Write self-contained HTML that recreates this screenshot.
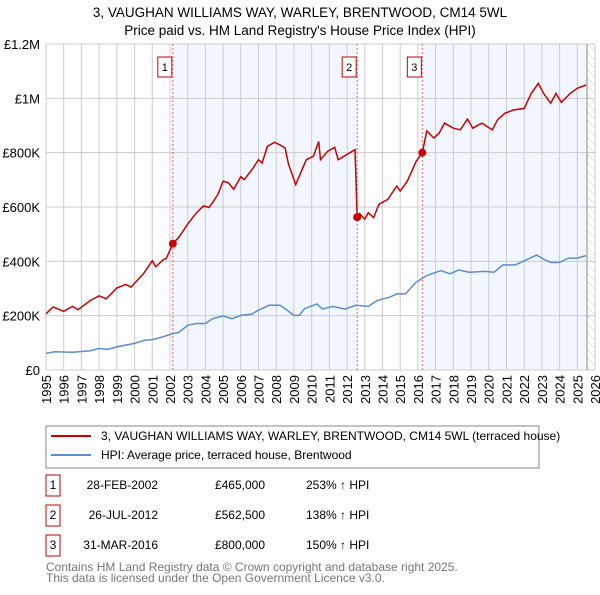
<!DOCTYPE html>
<html><head><meta charset="utf-8"><style>
body{margin:0;background:#fff;font-family:"Liberation Sans","DejaVu Sans",sans-serif;}
svg text{font-family:"Liberation Sans","DejaVu Sans",sans-serif;}
</style></head><body>
<svg id="c" width="600" height="590" xmlns="http://www.w3.org/2000/svg">
<defs><pattern id="hatch" width="6" height="6" patternUnits="userSpaceOnUse" patternTransform="rotate(-45)"><line x1="0" y1="0" x2="0" y2="6" stroke="#ccc" stroke-width="1"/></pattern></defs>
<text x="300" y="17" text-anchor="middle" font-size="13.5" fill="#000">3, VAUGHAN WILLIAMS WAY, WARLEY, BRENTWOOD, CM14 5WL</text>
<text x="300" y="35" text-anchor="middle" font-size="13.5" fill="#000">Price paid vs. HM Land Registry's House Price Index (HPI)</text>
<g id="plot"></g>
<rect x="46" y="426" width="493" height="42" fill="#fff" stroke="#888"/>
<line x1="51" y1="436" x2="91" y2="436" stroke="#cc0000" stroke-width="2"/>
<text x="101" y="440" font-size="12">3, VAUGHAN WILLIAMS WAY, WARLEY, BRENTWOOD, CM14 5WL (terraced house)</text>
<line x1="51" y1="455" x2="91" y2="455" stroke="#5b8dd6" stroke-width="2"/>
<text x="101" y="459" font-size="12">HPI: Average price, terraced house, Brentwood</text>
<g id="table" font-size="12"></g>
<text x="46" y="571" font-size="12" fill="#777">Contains HM Land Registry data © Crown copyright and database right 2025.</text>
<text x="46" y="582" font-size="12" fill="#777">This data is licensed under the Open Government Licence v3.0.</text>
</svg>
<script>
const yearTicks=[1995,1996,1997,1998,1999,2000,2001,2002,2003,2004,2005,2006,2007,2008,2009,2010,2011,2012,2013,2014,2015,2016,2017,2018,2019,2020,2021,2022,2023,2024,2025,2026];
const priceTicks=[0,200000,400000,600000,800000,1000000,1200000];
const priceTickLabels=["£0","£200K","£400K","£600K","£800K","£1M","£1.2M"];
const redYears=[1995.0,1995.4,1996.0,1996.5,1996.8,1997.5,1998.0,1998.4,1999.0,1999.5,1999.8,2000.5,2001.0,2001.2,2001.6,2001.8,2002.16,2002.5,2003.0,2003.5,2003.9,2004.2,2004.4,2004.7,2005.0,2005.3,2005.6,2006.0,2006.2,2006.7,2007.0,2007.2,2007.5,2007.9,2008.2,2008.5,2008.7,2008.9,2009.1,2009.34,2009.7,2010.1,2010.4,2010.5,2010.9,2011.3,2011.5,2012.45,2012.57,2012.7,2013.0,2013.2,2013.5,2013.8,2014.3,2014.8,2015.0,2015.4,2015.9,2016.25,2016.5,2016.9,2017.2,2017.5,2018.0,2018.4,2018.8,2019.1,2019.6,2020.2,2020.5,2020.9,2021.4,2022.0,2022.4,2022.8,2023.1,2023.5,2023.8,2024.1,2024.6,2025.0,2025.5];
const redValues=[207,232,216,234,222,256,273,262,302,315,305,354,402,380,405,411,465,488,537,579,604,598,616,646,695,689,665,711,701,744,774,762,823,838,829,817,756,720,683,720,774,787,841,774,805,820,774,811,562.5,576,555,579,561,610,628,677,659,695,768,800,880,854,872,909,890,884,924,890,909,884,921,945,957,963,1018,1055,1018,982,1018,985,1018,1037,1049];
const hpiYears=[1995.0,1995.5,1996.5,1997.5,1998.0,1998.5,1999.0,2000.0,2000.6,2001.0,2001.5,2002.16,2002.5,2003.0,2003.5,2004.0,2004.4,2005.0,2005.5,2006.0,2006.6,2007.0,2007.6,2008.2,2008.5,2009.0,2009.3,2009.6,2010.3,2010.6,2011.2,2011.9,2012.5,2013.2,2013.7,2014.4,2014.8,2015.3,2015.9,2016.5,2017.3,2017.8,2018.3,2018.9,2019.8,2020.3,2020.8,2021.5,2022.0,2022.7,2023.2,2023.5,2024.0,2024.5,2025.0,2025.5];
const hpiValues=[61,67,65,71,79,76,85,98,110,112,120,134,138,165,171,171,189,199,189,201,205,220,238,238,226,201,201,226,243,224,234,224,238,234,256,268,280,280,323,348,366,354,368,360,363,360,387,387,402,423,405,396,396,412,412,421];
const saleYears=[2002.16,2012.57,2016.25];
const saleValues=[465000,562500,800000];
const saleLabels=["1","2","3"];
const saleDates=["28-FEB-2002","26-JUL-2012","31-MAR-2016"];
const salePrices=["£465,000","£562,500","£800,000"];
const saleHpi=["253% ↑ HPI","138% ↑ HPI","150% ↑ HPI"];

const X0=46,X1=595,Y0=370,Y1=44;
const xs=y=>X0+(y-1995)/(2026-1995)*(X1-X0);
const ys=v=>Y0-v/1200000*(Y0-Y1);
const NS="http://www.w3.org/2000/svg";
function mk(parent,tag,attrs,text){const e=document.createElementNS(NS,tag);for(const k in attrs)e.setAttribute(k,attrs[k]);if(text!==undefined)e.textContent=text;parent.appendChild(e);return e;}
const g=document.getElementById('plot');
let e;
e=mk(g,'rect',{x:X0,y:Y1,width:X1-X0,height:Y0-Y1,fill:'#fff'});


e=mk(g,'rect',{x:xs(saleYears[0]),y:Y1,width:xs(saleYears[1])-xs(saleYears[0]),height:Y0-Y1,fill:'#f2f6fe'});


e=mk(g,'rect',{x:xs(saleYears[2]),y:Y1,width:xs(2025.55)-xs(saleYears[2]),height:Y0-Y1,fill:'#f2f6fe'});


e=mk(g,'rect',{x:xs(2025.55),y:Y1,width:X1-xs(2025.55),height:Y0-Y1,fill:'url(#hatch)'});


yearTicks.forEach(y=>{
 e=mk(g,'line',{x1:xs(y),x2:xs(y),y1:Y1,y2:Y0,stroke:'#ccc','stroke-width':1});
 
 
 e=mk(g,'text',{x:0,y:0,'text-anchor':'end','font-size':13,transform:'translate('+(xs(y)+5)+','+(Y0+5)+') rotate(-90)'},String(y));
 
 
});
priceTicks.forEach((v,i)=>{
 e=mk(g,'line',{x1:X0,x2:X1,y1:ys(v),y2:ys(v),stroke:'#ccc','stroke-width':1});
 
 
 e=mk(g,'text',{x:X0-6,y:ys(v)+5,'text-anchor':'end','font-size':13},priceTickLabels[i]);
 
 
});
e=mk(g,'line',{x1:xs(2025.55),x2:xs(2025.55),y1:Y1,y2:Y0,stroke:'#888','stroke-width':1});


saleYears.forEach((y,i)=>{
 e=mk(g,'line',{x1:xs(y),x2:xs(y),y1:Y1,y2:Y0,stroke:'#e66','stroke-width':1,'stroke-dasharray':'2,2'});
 
 
 e=mk(g,'rect',{x:xs(y)-15,y:57,width:14,height:20,fill:'#fff',stroke:'#cc0000'});
 
 
 e=mk(g,'text',{x:xs(y)-8,y:71,'text-anchor':'middle','font-size':11},saleLabels[i]);
 
 
});
const pts=(ax,av)=>ax.map((y,i)=>xs(y).toFixed(1)+','+ys(av[i]*1000).toFixed(1)).join(' ');
e=mk(g,'polyline',{points:pts(hpiYears,hpiValues),fill:'none',stroke:'#5b8dd6','stroke-width':1.5});


e=mk(g,'polyline',{points:pts(redYears,redValues),fill:'none',stroke:'#cc0000','stroke-width':1.5});


saleYears.forEach((y,i)=>{
 e=mk(g,'circle',{cx:xs(y),cy:ys(saleValues[i]),r:4,fill:'#cc0000'});
 
 
});
const t=document.getElementById('table');
saleLabels.forEach((l,i)=>{
 const cy=489+i*30;
 e=mk(t,'rect',{x:46,y:cy-14,width:14,height:21,fill:'#fff',stroke:'#cc0000'});
 
 
 e=mk(t,'text',{x:53,y:cy,'text-anchor':'middle'},l);
 
 
 e=mk(t,'text',{x:158,y:cy,'text-anchor':'end'},saleDates[i]);
 
 
 e=mk(t,'text',{x:265,y:cy,'text-anchor':'end'},salePrices[i]);
 
 
 e=mk(t,'text',{x:306,y:cy},saleHpi[i]);
 
 
});
</script>
</body></html>
